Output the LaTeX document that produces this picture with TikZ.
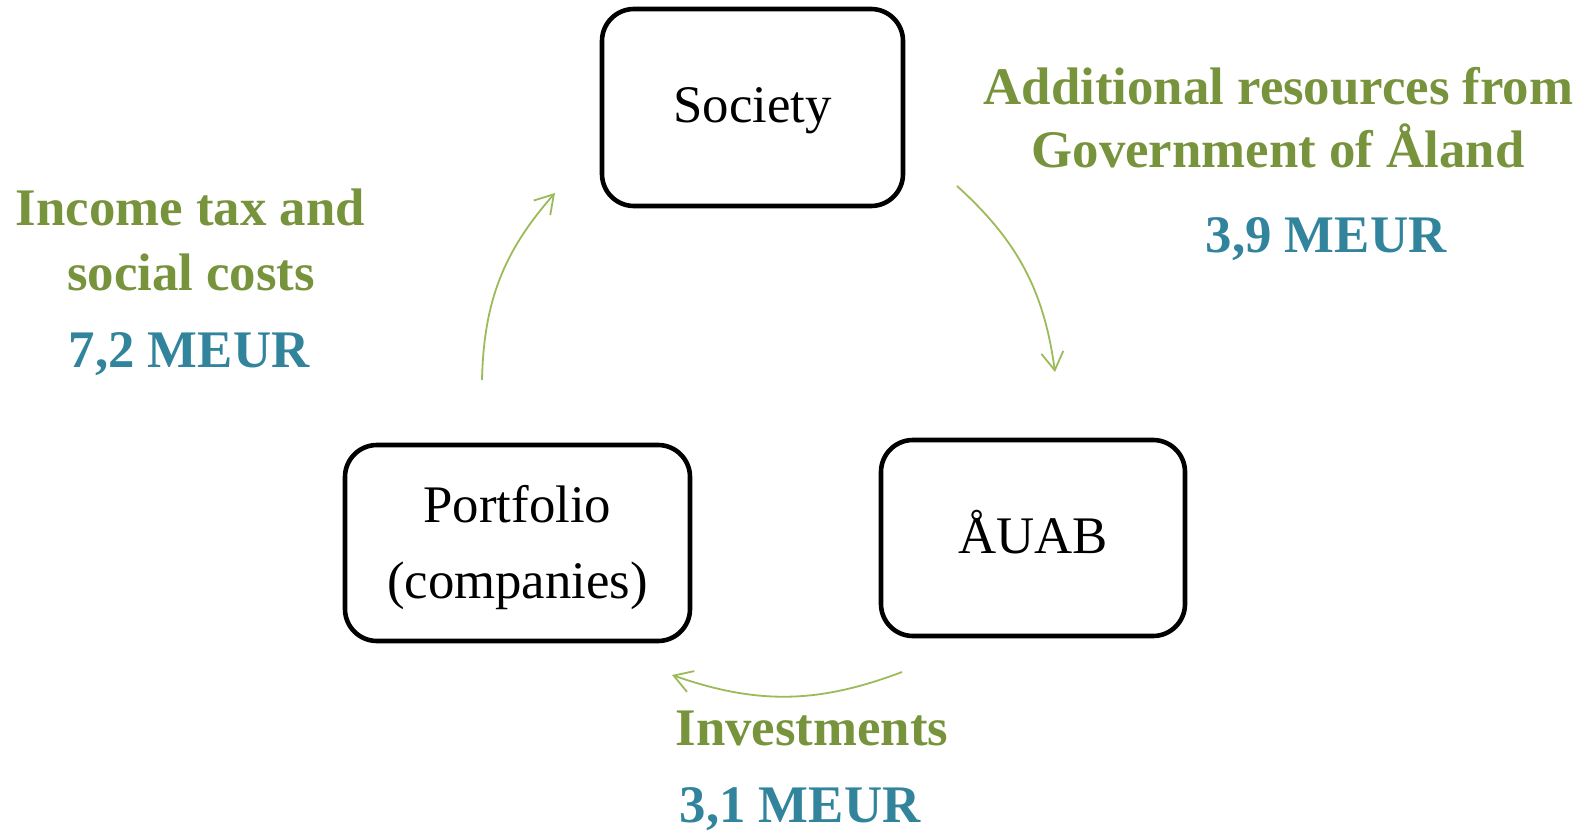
\documentclass[tikz,border=0pt]{standalone}
\usepackage{fontspec}
\setmainfont{Liberation Serif}
\usetikzlibrary{arrows.meta}
\definecolor{lblgreen}{HTML}{77933C}
\definecolor{lblblue}{HTML}{31849B}
\definecolor{arrgreen}{HTML}{9BBB59}
\begin{document}
\begin{tikzpicture}[x=0.5pt,y=0.5pt,
  box/.style={draw=black, line width=2.3pt, rounded corners=16pt, inner sep=0pt,
    align=center, font=\fontsize{26.4}{38}\selectfont},
  onebox/.style={box, text height=15.5pt, text depth=0pt},
  flow/.style={draw=arrgreen, line width=0.9pt, -{Straight Barb[length=9pt,width=11pt,line width=0.9pt]}, bend left=20},
  gtxt/.style={text=lblgreen, font=\fontsize{26.4}{32}\selectfont\bfseries, anchor=base, inner sep=0pt},
  btxt/.style={text=lblblue, font=\fontsize{26.4}{32}\selectfont\bfseries, anchor=base, inner sep=0pt}
]
\useasboundingbox (0,0) rectangle (1591,832);

\node[onebox, minimum width=150.5pt, minimum height=98.5pt] (soc) at (752.5,724.5) {Society};
\node[onebox, minimum width=152pt, minimum height=98pt] (auab) at (1033,294) {ÅUAB};
\node[box, minimum width=172.5pt, minimum height=98pt, text height=61.5pt] (port) at (517.5,289) {Portfolio\\(companies)};

\coordinate (a1s) at (957,646);
\coordinate (a1e) at (1055,460);
\coordinate (a2s) at (902,160);
\coordinate (a2e) at (672,157);
\coordinate (a3s) at (482,452);
\coordinate (a3e) at (555,639);

\draw[flow] (a1s) to (a1e);
\draw[flow] (a2s) to (a2e);
\draw[flow] (a3s) to (a3e);

\node[gtxt] (l1) at (190.5,607) {Income tax and};
\node[gtxt] (l2) at (191,542) {social costs};
\node[btxt] (l3) at (189,465) {7,2 MEUR};

\node[gtxt] (r1) at (1278.5,727) {Additional resources from};
\node[gtxt] (r2) at (1278,664.5) {Government of Åland};
\node[btxt] (r3) at (1326,580) {3,9 MEUR};

\node[gtxt] (b1) at (812,87) {Investments};
\node[btxt] (b2) at (800,10) {3,1 MEUR};
\end{tikzpicture}
\end{document}
